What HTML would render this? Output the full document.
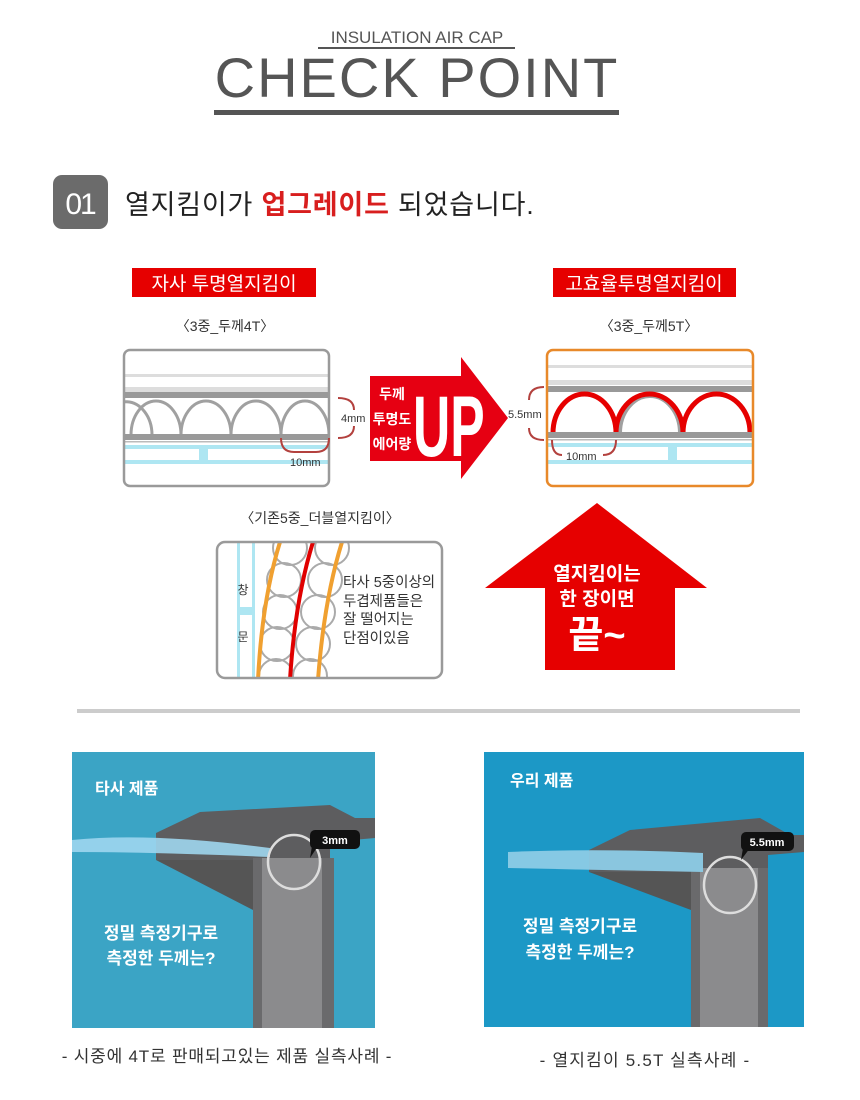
<!DOCTYPE html>
<html><head><meta charset="utf-8"><style>
html,body{margin:0;padding:0;background:#fff;}
svg{display:block;font-family:"Liberation Sans","Noto Sans CJK KR",sans-serif;}
</style></head><body>
<svg width="860" height="1100" viewBox="0 0 860 1100" xmlns="http://www.w3.org/2000/svg">
<!-- Header -->
<text x="417" y="43" font-size="17" fill="#555" text-anchor="middle">INSULATION AIR CAP</text>
<rect x="318" y="47" width="197" height="2" fill="#555"/>
<text x="417" y="97" font-size="56" fill="#555" text-anchor="middle" letter-spacing="2">CHECK POINT</text>
<rect x="214" y="110" width="405" height="5" fill="#555"/>

<rect x="53" y="175" width="55" height="54" rx="9" fill="#6b6b6b"/>
<text x="80" y="214" font-size="30" fill="#fff" text-anchor="middle" letter-spacing="-2">01</text>
<text x="125" y="214" font-size="27" fill="#222" letter-spacing="0.8">열지킴이가 <tspan fill="#d81e1e" font-weight="bold">업그레이드</tspan> 되었습니다.</text>

<rect x="132" y="268" width="184" height="29" fill="#e60000"/>
<text x="224" y="290" font-size="19" fill="#fff" text-anchor="middle">자사 투명열지킴이</text>
<rect x="553" y="268" width="183" height="29" fill="#e60000"/>
<text x="644" y="290" font-size="19" fill="#fff" text-anchor="middle">고효율투명열지킴이</text>
<text x="225" y="331" font-size="14" fill="#333" text-anchor="middle">〈3중_두께4T〉</text>
<text x="649" y="331" font-size="14" fill="#333" text-anchor="middle">〈3중_두께5T〉</text>

<defs>
<clipPath id="cl"><rect x="124" y="350" width="205" height="136" rx="6"/></clipPath>
<clipPath id="cr"><rect x="547" y="350" width="206" height="136" rx="6"/></clipPath>
<clipPath id="cb"><rect x="217" y="542" width="225" height="136" rx="8"/></clipPath>
<clipPath id="p1"><rect x="72" y="752" width="303" height="276"/></clipPath>
<clipPath id="p2"><rect x="484" y="752" width="320" height="275"/></clipPath>
</defs>
<g clip-path="url(#cl)">
<rect x="120" y="374" width="215" height="3" fill="#ddd"/>
<rect x="120" y="387" width="215" height="5" fill="#ddd"/>
<rect x="120" y="392" width="215" height="6" fill="#999"/>
<g fill="none" stroke="#a0a0a0" stroke-width="3">
<path d="M100 435 A 25 32 0 0 1 152 435"/>
<path d="M131 435 A 25 34 0 0 1 181 435"/>
<path d="M181 435 A 25 34 0 0 1 231 435"/>
<path d="M231 435 A 25 34 0 0 1 281 435"/>
<path d="M281 435 A 24 34 0 0 1 329 435"/>
</g>
<rect x="120" y="434" width="215" height="6" fill="#999"/>
<rect x="120" y="441" width="215" height="1.5" fill="#bbb"/>
<rect x="120" y="445" width="215" height="4" fill="#aee6f2"/>
<rect x="120" y="460" width="215" height="4" fill="#aee6f2"/>
<rect x="199" y="449" width="9" height="11" fill="#aee6f2"/>
</g>
<rect x="124" y="350" width="205" height="136" rx="6" fill="none" stroke="#9a9a9a" stroke-width="2.5"/>
<path d="M281 438 Q281 452 294 452 L316 452 Q329 452 329 438" fill="none" stroke="#b3413e" stroke-width="2"/>
<text x="290" y="466" font-size="11" fill="#333">10mm</text>
<path d="M338 398 Q354 398 354 410 M354 426 Q354 438 338 438" fill="none" stroke="#b3413e" stroke-width="2"/>
<text x="341" y="422" font-size="11" fill="#333">4mm</text>

<!-- UP arrow -->
<path d="M370 376 L461 376 L461 357 L508 418 L461 479 L461 461 L370 461 Z" fill="#e60012"/>
<text x="392" y="399" font-size="14" font-weight="bold" fill="#fff" text-anchor="middle">두께</text>
<text x="392" y="424" font-size="14" font-weight="bold" fill="#fff" text-anchor="middle">투명도</text>
<text x="392" y="449" font-size="14" font-weight="bold" fill="#fff" text-anchor="middle">에어량</text>
<text x="0" y="0" font-size="86" font-weight="bold" fill="#fff" transform="translate(413 456) scale(0.6 1)">UP</text>

<!-- Right box -->
<g clip-path="url(#cr)">
<rect x="540" y="365" width="220" height="3" fill="#ddd"/>
<rect x="540" y="380" width="220" height="5" fill="#ddd"/>
<rect x="540" y="386" width="220" height="6" fill="#999"/>
<path d="M620 433 A 30 37 0 0 1 680 433" fill="none" stroke="#a0a0a0" stroke-width="4"/>
<g fill="none" stroke="#e60000" stroke-width="5">
<path d="M553 433 A 31.5 39 0 0 1 616 433"/>
<path d="M616 433 A 33.5 39 0 0 1 683 433"/>
<path d="M683 433 A 33.5 39 0 0 1 750 433"/>
</g>
<rect x="540" y="432" width="220" height="6" fill="#999"/>
<rect x="540" y="439" width="220" height="1.5" fill="#bbb"/>
<rect x="540" y="443" width="220" height="4" fill="#aee6f2"/>
<rect x="540" y="460" width="220" height="4" fill="#aee6f2"/>
<rect x="668" y="447" width="9" height="13" fill="#aee6f2"/>
</g>
<rect x="547" y="350" width="206" height="136" rx="6" fill="none" stroke="#e8892a" stroke-width="2.5"/>
<path d="M544 387 Q529 387 529 400 M529 428 Q529 440 544 440" fill="none" stroke="#b3413e" stroke-width="2"/>
<text x="508" y="418" font-size="11" fill="#333">5.5mm</text>
<path d="M552 440 Q552 455 562 455 M603 455 Q616 455 616 440" fill="none" stroke="#b3413e" stroke-width="2"/>
<text x="566" y="460" font-size="11" fill="#333">10mm</text>

<!-- Second row -->
<text x="320" y="523" font-size="14" fill="#333" text-anchor="middle">〈기존5중_더블열지킴이〉</text>
<g clip-path="url(#cb)">
<rect x="237" y="540" width="3" height="140" fill="#aee6f2"/>
<rect x="252" y="540" width="3" height="140" fill="#aee6f2"/>
<rect x="237" y="607" width="18" height="8" fill="#aee6f2"/>
<g fill="none" stroke="#aaa" stroke-width="2">
<circle cx="290" cy="548" r="17"/><circle cx="284" cy="580" r="17"/><circle cx="280" cy="612" r="17"/><circle cx="277" cy="644" r="17"/><circle cx="276" cy="676" r="17"/>
<circle cx="332" cy="548" r="17"/><circle cx="325" cy="580" r="17"/><circle cx="318" cy="612" r="17"/><circle cx="313" cy="644" r="17"/><circle cx="310" cy="676" r="17"/>
</g>
<path d="M280 542 Q262 600 258 680" fill="none" stroke="#f0a030" stroke-width="4"/>
<path d="M313 542 Q295 600 290 680" fill="none" stroke="#e00000" stroke-width="4"/>
<path d="M342 542 Q324 600 318 680" fill="none" stroke="#f0a030" stroke-width="4"/>
</g>
<rect x="217" y="542" width="225" height="136" rx="8" fill="none" stroke="#9a9a9a" stroke-width="2.5"/>
<text x="243" y="594" font-size="12" fill="#333" text-anchor="middle">창</text>
<text x="243" y="641" font-size="12" fill="#333" text-anchor="middle">문</text>
<g font-size="14.5" fill="#333">
<text x="343" y="587">타사 5중이상의</text>
<text x="343" y="606">두겹제품들은</text>
<text x="343" y="624">잘 떨어지는</text>
<text x="343" y="643">단점이있음</text>
</g>
<path d="M597 503 L707 588 L675 588 L675 670 L545 670 L545 588 L485 588 Z" fill="#e60000"/>
<text x="597" y="580" font-size="19" font-weight="bold" fill="#fff" text-anchor="middle">열지킴이는</text>
<text x="597" y="605" font-size="19" font-weight="bold" fill="#fff" text-anchor="middle">한 장이면</text>
<text x="597" y="648" font-size="38" font-weight="bold" fill="#fff" text-anchor="middle">끝~</text>

<rect x="77" y="709" width="723" height="4" fill="#ccc"/>

<!-- Left photo -->
<g clip-path="url(#p1)">
<rect x="72" y="752" width="303" height="276" fill="#3ba4c5"/>
<path d="M156 833 L200 812 L330 805 L355 818 L375 818 L375 838 L330 842 L330 860 L156 860 Z" fill="#5d5d5f"/>
<path d="M156 860 L253 860 L253 910 Z" fill="#555"/>
<rect x="253" y="858" width="81" height="170" fill="#6a6a6c"/>
<rect x="262" y="858" width="60" height="170" fill="#8b8b8d"/>
<path d="M72 840 Q150 832 270 848 L270 857 Q150 852 72 852 Z" fill="#9fd6ee" opacity="0.9"/>
<ellipse cx="294" cy="862" rx="26" ry="27" fill="none" stroke="#ddd" stroke-width="2.5"/>
<rect x="310" y="830" width="50" height="19" rx="5" fill="#111"/>
<path d="M312 846 L318 846 L310 858 Z" fill="#111"/>
<text x="335" y="844" font-size="11" font-weight="bold" fill="#fff" text-anchor="middle">3mm</text>
<text x="95" y="794" font-size="16" font-weight="bold" fill="#fff">타사 제품</text>
<text x="161" y="939" font-size="17" font-weight="bold" fill="#fff" text-anchor="middle">정밀 측정기구로</text>
<text x="161" y="964" font-size="17" font-weight="bold" fill="#fff" text-anchor="middle">측정한 두께는?</text>
</g>
<!-- Right photo -->
<g clip-path="url(#p2)">
<rect x="484" y="752" width="320" height="275" fill="#1c98c6"/>
<path d="M589 850 L630 830 L760 818 L790 835 L804 835 L804 852 L768 855 L768 872 L589 872 Z" fill="#5d5d5f"/>
<path d="M589 872 L691 872 L691 910 Z" fill="#555"/>
<rect x="691" y="868" width="77" height="160" fill="#6a6a6c"/>
<rect x="700" y="868" width="58" height="160" fill="#8b8b8d"/>
<path d="M508 852 Q600 848 703 853 L703 872 Q600 870 508 868 Z" fill="#8ccbe6" opacity="0.95"/>
<ellipse cx="730" cy="885" rx="26" ry="28" fill="none" stroke="#ddd" stroke-width="2.5"/>
<rect x="741" y="832" width="53" height="19" rx="5" fill="#111"/>
<path d="M743 848 L750 848 L741 860 Z" fill="#111"/>
<text x="767" y="846" font-size="11" font-weight="bold" fill="#fff" text-anchor="middle">5.5mm</text>
<text x="510" y="786" font-size="16" font-weight="bold" fill="#fff">우리 제품</text>
<text x="580" y="932" font-size="17" font-weight="bold" fill="#fff" text-anchor="middle">정밀 측정기구로</text>
<text x="580" y="958" font-size="17" font-weight="bold" fill="#fff" text-anchor="middle">측정한 두께는?</text>
</g>

<text x="227" y="1062" font-size="17" fill="#333" text-anchor="middle" letter-spacing="0.8">- 시중에 4T로 판매되고있는 제품 실측사례 -</text>
<text x="645" y="1066" font-size="17" fill="#333" text-anchor="middle" letter-spacing="1.2">-  열지킴이 5.5T 실측사례  -</text>
</svg>
</body></html>
